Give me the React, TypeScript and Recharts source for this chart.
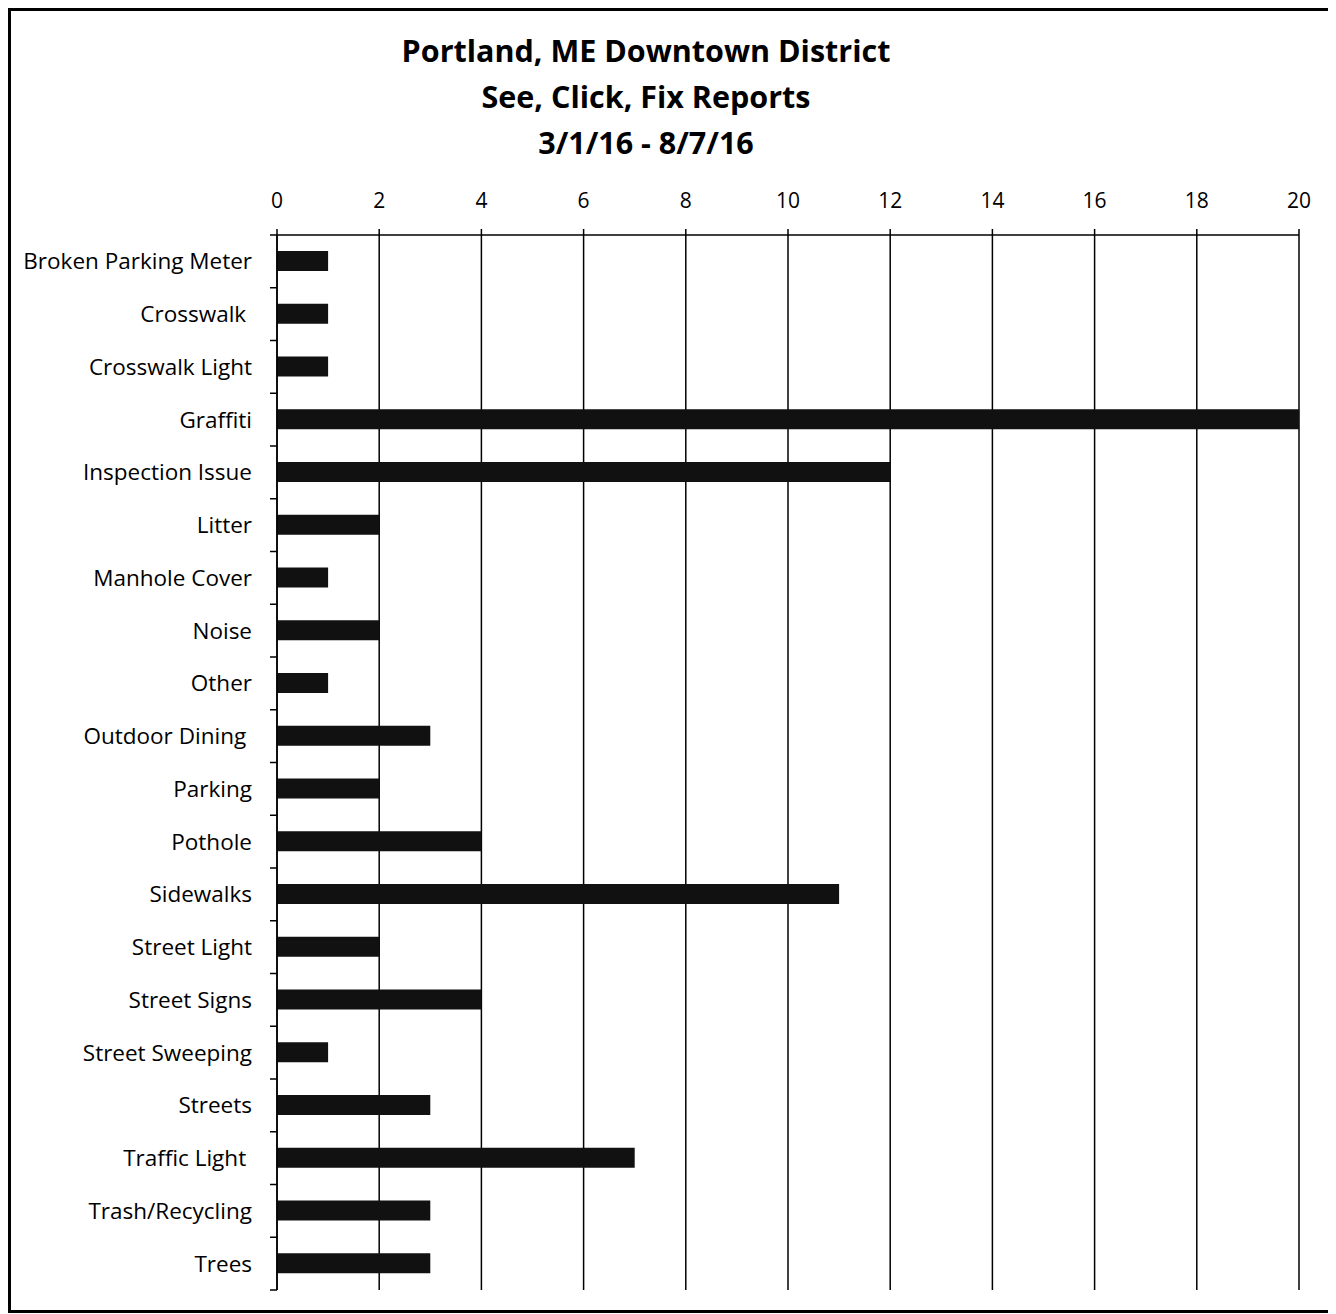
import React from "react";
import { BarChart, Bar, XAxis, YAxis, CartesianGrid } from "recharts";

const categories = [
  "Broken Parking Meter",
  "Crosswalk\u00A0",
  "Crosswalk Light",
  "Graffiti",
  "Inspection Issue",
  "Litter",
  "Manhole Cover",
  "Noise",
  "Other",
  "Outdoor Dining\u00A0",
  "Parking",
  "Pothole",
  "Sidewalks",
  "Street Light",
  "Street Signs",
  "Street Sweeping",
  "Streets",
  "Traffic Light\u00A0",
  "Trash/Recycling",
  "Trees",
];

const reports = [1, 1, 1, 20, 12, 2, 1, 2, 1, 3, 2, 4, 11, 2, 4, 1, 3, 7, 3, 3];

const xTicks = [0, 2, 4, 6, 8, 10, 12, 14, 16, 18, 20];

const titleLines = [
  "Portland, ME Downtown District",
  "See, Click, Fix Reports",
  "3/1/16 - 8/7/16",
];

const data = categories.map((name, i) => ({ name, value: reports[i] }));

const W = 1328;
const H = 1305;
const FONT = "'Open Sans', Lato, sans-serif";
const BAND = 1055 / categories.length;

const YTick = (props: any) => {
  const { x, y, payload, index } = props;
  const last = index === categories.length - 1;
  return (
    <g>
      <text
        x={x - 25}
        y={y + 8}
        textAnchor="end"
        fontSize={22.5}
        fontFamily={FONT}
        fill="#000"
        style={{ whiteSpace: "pre" }}
      >
        {payload.value}
      </text>
      <line x1={x - 7} x2={x} y1={y - BAND / 2} y2={y - BAND / 2} stroke="#000" strokeWidth={1.5} />
      {last && (
        <line x1={x - 7} x2={x} y1={y + BAND / 2} y2={y + BAND / 2} stroke="#000" strokeWidth={1.5} />
      )}
    </g>
  );
};

const XTick = (props: any) => {
  const { x, y, payload } = props;
  return (
    <text x={x} y={y - 21} textAnchor="middle" fontSize={21} fontFamily={FONT} fill="#000">
      {payload.value}
    </text>
  );
};

export default function App() {
  return (
    <div style={{ position: "relative", width: W, height: H, background: "#fff" }}>
      <BarChart
        width={W}
        height={H}
        data={data}
        layout="vertical"
        margin={{ top: 167, right: 37, bottom: 23, left: 0 }}
      >
        <CartesianGrid vertical={true} horizontal={false} stroke="#000" strokeWidth={1.5} strokeOpacity={1} />
        <XAxis
          type="number"
          orientation="top"
          domain={[0, 20]}
          ticks={xTicks}
          height={60}
          tickSize={6}
          tickMargin={0}
          tick={<XTick />}
          axisLine={{ stroke: "#000", strokeWidth: 1.5 }}
          tickLine={{ stroke: "#000", strokeWidth: 1.5 }}
          allowDataOverflow
        />
        <YAxis
          type="category"
          dataKey="name"
          width={269}
          interval={0}
          tickSize={0}
          tickMargin={0}
          tickLine={false}
          tick={<YTick />}
          axisLine={{ stroke: "#000", strokeWidth: 1.5 }}
        />
        <Bar dataKey="value" fill="#111" barSize={20} isAnimationActive={false} />
      </BarChart>
      <svg
        width={W}
        height={H}
        style={{ position: "absolute", left: 0, top: 0, pointerEvents: "none" }}
      >
        <rect x={1.5} y={1.5} width={1324} height={1302} fill="none" stroke="#000" strokeWidth={3} />
        {titleLines.map((t, i) => (
          <text
            key={i}
            x={638}
            y={54 + i * 46}
            textAnchor="middle"
            fontSize={30.5}
            fontWeight={700}
            fontFamily={FONT}
            fill="#000"
          >
            {t}
          </text>
        ))}
      </svg>
    </div>
  );
}
